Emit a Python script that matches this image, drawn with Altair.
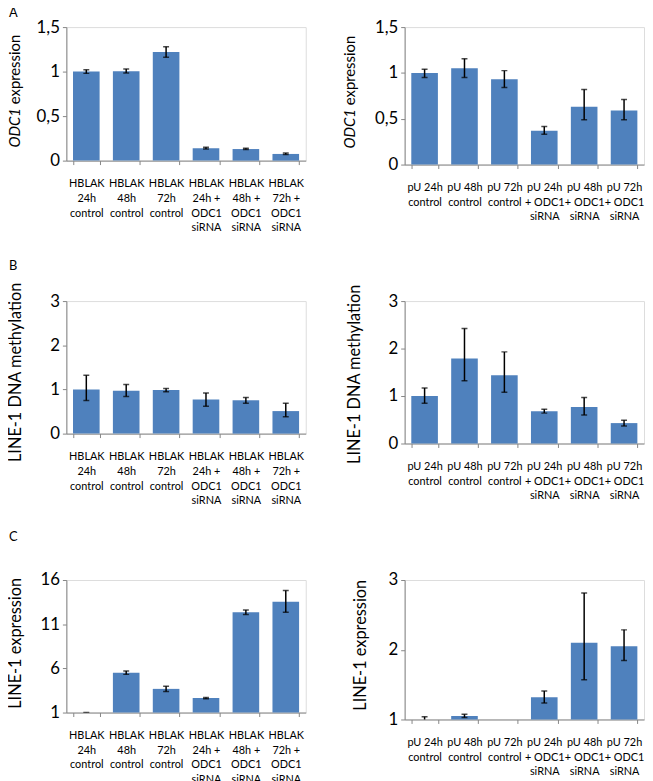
import altair as alt
import pandas as pd

FONT = "Lato"
BLUE = "#4F81BD"
GRAY = "#868686"

# categories (lines separated by "|")
HBLAK = ["HBLAK|24h|control", "HBLAK|48h|control", "HBLAK|72h|control",
         "HBLAK|24h +|ODC1|siRNA", "HBLAK|48h +|ODC1|siRNA", "HBLAK|72h +|ODC1|siRNA"]
PU = ["pU 24h|control", "pU 48h|control", "pU 72h|control",
      "pU 24h|+ ODC1|siRNA", "pU 48h|+ ODC1|siRNA", "pU 72h|+ ODC1|siRNA"]

# A: ODC1 expression
a_l_val = [1.00, 1.005, 1.22, 0.14, 0.13, 0.075]
a_l_lo = [0.98, 0.985, 1.16, 0.13, 0.125, 0.07]
a_l_hi = [1.02, 1.03, 1.28, 0.15, 0.14, 0.085]

a_r_val = [1.00, 1.05, 0.93, 0.37, 0.63, 0.59]
a_r_lo = [0.95, 0.95, 0.84, 0.33, 0.49, 0.49]
a_r_hi = [1.04, 1.155, 1.025, 0.415, 0.82, 0.71]

# B: LINE-1 DNA methylation
b_l_val = [1.00, 0.97, 0.985, 0.77, 0.755, 0.51]
b_l_lo = [0.75, 0.84, 0.95, 0.62, 0.69, 0.38]
b_l_hi = [1.32, 1.11, 1.02, 0.92, 0.82, 0.69]

b_r_val = [1.00, 1.79, 1.44, 0.68, 0.77, 0.43]
b_r_lo = [0.85, 1.32, 1.08, 0.64, 0.60, 0.37]
b_r_hi = [1.17, 2.42, 1.93, 0.72, 0.97, 0.49]

# C: LINE-1 expression
c_l_val = [1.0, 5.5, 3.68, 2.64, 12.35, 13.55]
c_l_lo = [0.98, 5.32, 3.38, 2.56, 12.09, 12.35]
c_l_hi = [1.02, 5.69, 3.98, 2.71, 12.61, 14.8]

c_r_val = [1.0, 1.05, 1.0, 1.32, 2.10, 2.05]
c_r_lo = [0.96, 1.03, None, 1.235, 1.57, 1.845]
c_r_hi = [1.04, 1.075, None, 1.41, 2.815, 2.285]

A_TICKS = [0, 0.5, 1, 1.5]
B_TICKS = [0, 1, 2, 3]
CL_TICKS = [1, 6, 11, 16]
CR_TICKS = [1, 2, 3]

W = 242


def panel(cats, val, lo, hi, ticks, base, height, title_parts, title_x, title_y,
          title_size, letter=None, letter_y=0):
    df = pd.DataFrame({"cat": cats, "val": val, "lo": lo, "hi": hi})
    x = alt.X("cat:N", sort=cats,
              scale=alt.Scale(paddingInner=0.333, paddingOuter=0.1667),
              axis=alt.Axis(title=None, labelAngle=0,
                            labelExpr="split(datum.label, '|')",
                            labelFont=FONT, labelFontSize=11, labelLineHeight=15,
                            labelPadding=13, labelColor="black",
                            tickBand="extent", tickSize=4,
                            domainColor=GRAY, tickColor=GRAY))
    y = alt.Y("val:Q",
              scale=alt.Scale(domain=[ticks[0], ticks[-1]], nice=False, zero=False),
              axis=alt.Axis(title=None, values=ticks, grid=False,
                            labelExpr="replace(format(datum.value, '~g'), '.', ',')",
                            labelFont=FONT, labelFontSize=17, labelColor="black",
                            labelPadding=3, tickSize=4,
                            domainColor=GRAY, tickColor=GRAY))
    ch = alt.Chart(df)
    bars = ch.mark_bar(color=BLUE).encode(x=x, y=y, y2=alt.datum(base))
    xs = alt.X("cat:N", sort=cats)
    rule = ch.mark_rule(color="black", strokeWidth=1.5, clip=True).encode(
        x=xs, y=alt.Y("lo:Q"), y2="hi:Q")
    cap_lo = ch.mark_tick(color="black", orient="horizontal", size=6,
                          thickness=1.5, clip=True).encode(x=xs, y="lo:Q")
    cap_hi = ch.mark_tick(color="black", orient="horizontal", size=6,
                          thickness=1.5, clip=True).encode(x=xs, y="hi:Q")
    layers = [bars, rule, cap_lo, cap_hi]
    dummy = alt.Chart(pd.DataFrame({"d": [0]}))
    if len(title_parts) == 1:
        layers.append(dummy.mark_text(angle=270, align="center", baseline="alphabetic",
                                      font=FONT, fontSize=title_size, color="black").encode(
            x=alt.value(title_x), y=alt.value(title_y), text=alt.value(title_parts[0])))
    else:
        layers.append(dummy.mark_text(angle=270, align="right", baseline="alphabetic",
                                      font=FONT, fontSize=title_size, fontStyle="italic",
                                      color="black").encode(
            x=alt.value(title_x), y=alt.value(title_y + 14), text=alt.value(title_parts[0])))
        layers.append(dummy.mark_text(angle=270, align="left", baseline="alphabetic",
                                      font=FONT, fontSize=title_size, color="black").encode(
            x=alt.value(title_x), y=alt.value(title_y + 10), text=alt.value(title_parts[1])))
    if letter:
        layers.append(dummy.mark_text(align="left", baseline="alphabetic", font=FONT,
                                      fontSize=13, color="black").encode(
            x=alt.value(-58), y=alt.value(letter_y), text=alt.value(letter)))
    return alt.layer(*layers).properties(width=W, height=height)


pA_l = panel(HBLAK, a_l_val, a_l_lo, a_l_hi, A_TICKS, 0, 135, ["ODC1", "expression"],
             -47, 68, 15, "A", -10)
pA_r = panel(PU, a_r_val, a_r_lo, a_r_hi, A_TICKS, 0, 139, ["ODC1", "expression"],
             -50, 69, 15)
pB_l = panel(HBLAK, b_l_val, b_l_lo, b_l_hi, B_TICKS, 0, 134, ["LINE-1 DNA methylation"],
             -46, 72, 16.5, "B", -31)
pB_r = panel(PU, b_r_val, b_r_lo, b_r_hi, B_TICKS, 0, 144, ["LINE-1 DNA methylation"],
             -45, 74, 16.5)
pC_l = panel(HBLAK, c_l_val, c_l_lo, c_l_hi, CL_TICKS, 1, 134, ["LINE-1 expression"],
             -46, 64, 16.5, "C", -39)
pC_r = panel(PU, c_r_val, c_r_lo, c_r_hi, CR_TICKS, 1, 141, ["LINE-1 expression"],
             -39, 66, 16.5)

chart = alt.ConcatChart(
    concat=[pA_l, pA_r, pB_l, pB_r, pC_l, pC_r],
    columns=2,
    spacing={"row": 138, "column": 100},
    bounds="flush",
).configure_view(stroke=None).configure(
    font=FONT, padding={"top": -6, "left": -1, "right": 0, "bottom": 0},
    background="white")

chart.save("out.html", embed_options={"renderer": "svg", "actions": False})
